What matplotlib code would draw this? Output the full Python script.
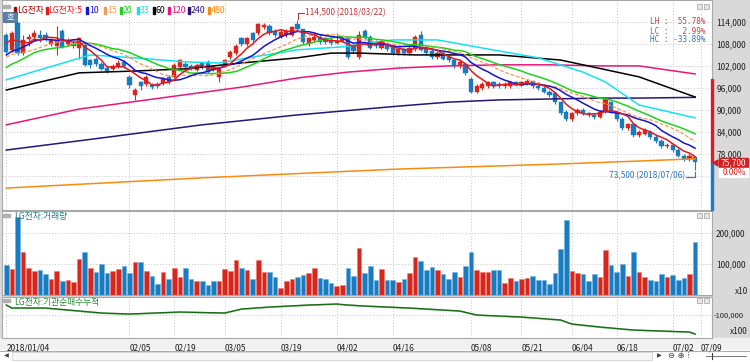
import numpy as np
import matplotlib
matplotlib.use("Agg")
import matplotlib.pyplot as plt
from matplotlib.patches import Rectangle, Polygon
from matplotlib.ticker import FuncFormatter

plt.rcParams['font.family'] = ['Noto Sans CJK KR', 'DejaVu Sans']

W, H = 750, 362

# daily candles 2018/01/04 .. 2018/07/06, thousand won
opens = [110.4, 106.3, 113.8, 105.5, 109.3, 110.0, 110.4, 110.5, 108.0, 107.5,
         111.5, 108.0, 107.5, 107.0, 107.7, 103.6, 103.8, 102.5, 101.5, 101.2,
         102.0, 103.0, 99.0, 94.0, 97.5, 97.0, 96.8, 97.0, 97.2, 99.0,
         99.0, 101.8, 102.5, 102.0, 100.9, 102.8, 103.0, 100.9, 99.0, 102.2,
         104.4, 105.5, 109.5, 108.0, 110.9, 111.0, 112.5, 113.0, 111.5, 110.0,
         110.5, 110.5, 113.5, 112.0, 108.0, 109.0, 110.0, 109.5, 109.0, 108.3,
         108.8, 109.5, 107.5, 104.5, 111.5, 110.0, 108.5, 107.0, 108.0, 107.0,
         105.5, 106.5, 105.5, 106.5, 110.5, 107.0, 106.0, 104.5, 105.5, 104.5,
         103.5, 102.0, 102.5, 98.5, 95.0, 96.0, 96.5, 97.5, 97.0, 96.5,
         96.5, 97.5, 96.8, 97.0, 97.8, 96.5, 96.0, 95.0, 94.5, 92.0,
         89.5, 87.5, 89.0, 90.0, 89.0, 88.5, 88.0, 89.5, 92.0, 89.0,
         87.5, 85.0, 86.0, 83.0, 83.5, 84.0, 82.5, 81.5, 80.0, 80.5,
         79.0, 77.5, 76.5, 77.2]
highs = [111.0, 111.5, 114.0, 110.4, 110.8, 111.8, 111.8, 111.2, 109.5, 113.0,
         112.0, 109.5, 108.8, 110.0, 108.3, 104.0, 104.5, 103.0, 102.0, 102.5,
         103.5, 103.5, 99.5, 96.0, 98.0, 99.5, 97.2, 97.5, 99.0, 99.5,
         102.8, 104.0, 103.0, 102.5, 102.5, 103.2, 103.5, 102.2, 101.8, 104.0,
         106.3, 108.0, 110.0, 110.0, 111.3, 113.8, 113.8, 113.5, 112.0, 112.0,
         112.0, 113.0, 114.5, 112.2, 110.0, 111.0, 110.5, 110.0, 109.5, 111.0,
         109.8, 110.0, 108.0, 111.5, 112.0, 110.5, 109.0, 109.0, 108.5, 107.5,
         107.0, 107.0, 107.5, 110.5, 111.5, 107.5, 106.5, 106.0, 106.0, 105.0,
         104.0, 103.5, 103.0, 99.0, 97.0, 97.5, 98.0, 98.0, 97.5, 97.5,
         98.0, 98.0, 98.0, 98.5, 98.0, 97.0, 96.5, 95.5, 95.0, 92.5,
         90.0, 89.5, 90.5, 90.5, 89.5, 89.0, 90.0, 93.5, 92.5, 89.5,
         88.0, 86.5, 86.5, 84.5, 85.0, 84.5, 83.0, 82.0, 81.0, 81.0,
         79.5, 78.0, 77.8, 77.2]
lows = [105.5, 105.8, 105.0, 105.0, 107.5, 108.7, 108.5, 108.8, 107.5, 105.0,
        107.0, 107.5, 107.0, 104.0, 102.0, 101.5, 102.0, 100.8, 100.0, 100.8,
        101.5, 101.5, 96.0, 92.7, 95.5, 96.5, 95.8, 96.0, 96.8, 97.0,
        98.8, 101.5, 101.2, 100.8, 100.5, 101.2, 100.0, 100.5, 97.5, 101.8,
        104.0, 105.0, 107.5, 107.5, 108.5, 110.5, 112.0, 110.5, 110.0, 109.5,
        110.0, 110.2, 111.5, 108.0, 107.5, 108.5, 108.0, 108.0, 107.8, 108.0,
        108.5, 104.0, 105.5, 104.0, 109.0, 106.5, 107.0, 106.5, 106.0, 105.0,
        105.0, 105.0, 105.0, 106.0, 106.0, 105.0, 104.0, 104.0, 103.5, 103.0,
        101.5, 101.5, 99.5, 94.5, 94.5, 95.5, 96.0, 96.0, 96.0, 96.0,
        96.0, 96.5, 96.5, 96.8, 96.0, 95.5, 94.5, 93.5, 91.5, 88.5,
        87.0, 87.0, 88.5, 88.5, 88.0, 87.5, 87.8, 89.0, 89.0, 87.0,
        84.5, 84.5, 82.5, 82.5, 83.0, 82.0, 81.0, 79.5, 79.5, 78.5,
        77.0, 76.0, 76.0, 73.5]
closes = [105.9, 111.1, 105.5, 109.1, 109.9, 111.0, 109.6, 109.5, 109.0, 109.2,
          107.2, 109.0, 108.0, 109.5, 102.2, 102.2, 102.5, 101.2, 100.5, 102.0,
          102.8, 102.0, 96.8, 95.5, 96.5, 99.0, 96.2, 96.5, 98.5, 97.5,
          102.2, 103.6, 101.8, 101.2, 102.0, 101.7, 100.3, 101.7, 101.5, 103.6,
          105.8, 107.5, 108.0, 109.5, 109.1, 113.5, 113.2, 111.0, 110.5, 111.3,
          111.5, 112.6, 112.0, 108.5, 109.5, 110.0, 108.5, 108.5, 108.3, 108.8,
          109.3, 104.5, 106.0, 110.5, 109.5, 107.0, 107.5, 108.5, 106.5, 105.5,
          106.5, 105.5, 107.0, 109.8, 106.3, 105.5, 104.5, 105.5, 104.0, 103.5,
          102.0, 103.0, 100.0, 95.0, 96.5, 97.0, 97.5, 96.5, 96.5, 97.0,
          97.5, 96.8, 97.5, 97.8, 96.5, 96.0, 95.0, 94.0, 92.0, 89.0,
          87.5, 89.0, 90.0, 89.0, 88.5, 88.0, 89.5, 93.0, 89.5, 87.5,
          85.0, 86.0, 83.0, 84.0, 84.5, 82.5, 81.5, 80.0, 80.5, 79.0,
          77.5, 76.5, 77.3, 75.7]
# closes before the window, used only to start the short averages
pre_closes = [93.0, 92.5, 93.0, 93.5, 94.0, 100.0, 102.0, 104.0, 105.0, 105.0,
              101.0, 101.0, 102.0, 102.5, 102.0, 106.5, 108.0, 110.0, 111.0]

# volume (axis units, thousands), colour of each bar
volumes = [96, 84, 251, 139, 87, 77, 81, 67, 52, 77,
           45, 48, 42, 116, 139, 87, 74, 100, 71, 77,
           84, 94, 71, 106, 106, 77, 62, 36, 74, 52,
           87, 58, 87, 52, 45, 45, 33, 45, 45, 84,
           77, 113, 87, 81, 52, 113, 74, 74, 58, 23,
           45, 52, 58, 65, 71, 87, 55, 52, 38, 29,
           33, 87, 62, 152, 71, 94, 47, 84, 47, 47,
           42, 52, 71, 123, 110, 81, 91, 81, 67, 52,
           74, 58, 94, 139, 81, 74, 74, 81, 81, 38,
           55, 45, 52, 55, 62, 48, 48, 36, 71, 149,
           242, 77, 71, 67, 45, 67, 58, 145, 96, 74,
           100, 62, 139, 74, 58, 48, 45, 67, 58, 64,
           48, 55, 67, 171]
vol_dir = ("brbrrrbbrrbrrrbrbbbrrbbrbrbbrbrrbb"
           "rbbbrrrrbrbrrbbrrrbbrrbbbrrbbrbb"
           "brbbrbrrbbbrbbbrbbrrrbbrrbrrbb"
           "bbbbbrrbbbrrbbbrbrrbbbrbbbrb")

# longer moving averages (bar index, won)
ma33_x = [0, 15, 23, 32, 38, 44, 52, 60, 69, 77, 85, 95, 103, 107, 113, 123]
ma33_y = [98200, 105000, 104200, 103100, 102800, 104400, 106400, 107200, 109100,
          109100, 106900, 104200, 100300, 97600, 91300, 87800]
ma60_x = [0, 13, 23, 32, 42, 52, 58, 63, 73, 88, 99, 113, 123]
ma60_y = [95400, 100100, 100600, 101200, 102800, 104200, 105500, 105500, 105000,
          105000, 103600, 99000, 93500]
ma120_x = [0, 13, 42, 52, 61, 70, 79, 88, 97, 106, 113, 123]
ma120_y = [85900, 90200, 96200, 98700, 100300, 101400, 102000, 102300, 102300,
           102000, 102000, 99800]
ma240_x = [0, 17, 35, 52, 70, 79, 88, 106, 113, 123]
ma240_y = [79000, 82300, 85900, 88600, 91000, 92100, 92700, 93200, 93200, 93400]
ma480_x = [0, 35, 70, 99, 113, 123]
ma480_y = [68600, 71400, 73800, 75200, 76000, 76600]

# institutional net buying, cumulative (axis units)
cum_x = [0, 1, 7, 17, 22, 31, 39, 42, 47, 54, 59, 61, 64, 72, 81, 84, 92, 99,
         101, 106, 112, 122, 123]
cum_y = [-50000, -65000, -65000, -90000, -95000, -85000, -90000, -70000, -60000,
         -50000, -45000, -50000, -55000, -65000, -80000, -100000, -110000,
         -125000, -145000, -160000, -175000, -185000, -195000]

tick_idx = [0, 22, 30, 39, 49, 59, 69, 83, 92, 101, 109, 119, 124]
tick_lab = ["2018/01/04", "02/05", "02/19", "03/05", "03/19", "04/02", "04/16",
            "05/08", "05/21", "06/04", "06/18", "07/02", "07/09"]
price_ticks = [72000, 78000, 84000, 90000, 96000, 102000, 108000, 114000]

RED, BLUE = '#d9261c', '#1a7cc0'
RED_L, BLUE_L = '#f07a70', '#6ab4e4'
c_ma = {5: '#e8161b', 10: '#1414d2', 15: '#f39a5a', 20: '#1ed21e',
        33: '#12e2f2', 60: '#000000', 120: '#e8177d', 240: '#2a1478',
        480: '#f98a12'}

fig = plt.figure(figsize=(W / 100, H / 100), dpi=100)
fig.patch.set_facecolor('#d9d9d9')


def px_axes(x0, y0, x1, y1, z):
    return fig.add_axes([x0 / W, 1 - y1 / H, (x1 - x0) / W, (y1 - y0) / H], zorder=z)


def fmt(v, p):
    # the bottom price tick sits under the current price tag
    return "" if v == 72000 else f"{int(v):,}"


bg = px_axes(0, 0, W, H, 0)
bg.set_xlim(0, W)
bg.set_ylim(H, 0)
bg.axis('off')
bg.add_patch(Rectangle((0, 338), W, 12, color='#f1f1f1'))
bg.add_patch(Rectangle((0, 350), W, 12, color='#ffffff'))
bg.plot([0, W], [350.5, 350.5], color='#8cb4dc', lw=0.8)

o = np.array(opens) * 1000
h = np.array(highs) * 1000
l = np.array(lows) * 1000
c = np.array(closes) * 1000
x = np.arange(len(c))
XL = (-0.768, 126.02)

ax = px_axes(2, 0, 712, 210, 2)
ax2 = px_axes(2, 211, 712, 295, 2)
ax3 = px_axes(2, 297, 712, 338, 2)
for a in (ax, ax2, ax3):
    a.set_xlim(*XL)
    a.set_facecolor('white')
    for s in a.spines.values():
        s.set_color('#a8a8a8')
        s.set_linewidth(0.8)
    a.set_xticks(tick_idx)
    a.grid(True, color='#c4c4c4', linestyle=(0, (1, 2)), lw=0.7)
    a.set_axisbelow(True)
    a.yaxis.tick_right()
    a.tick_params(length=0, labelsize=6, pad=3, colors='#202020')

# candles
up = c >= o
col = np.where(up, RED, BLUE)
ax.vlines(x, l, h, colors=col, lw=0.8, zorder=2)
body = np.maximum(np.abs(c - o), 250)
ax.bar(x, body, bottom=np.minimum(o, c), width=0.74, color=col, edgecolor=col,
       lw=0.3, zorder=2)

# moving averages
full = np.concatenate([np.array(pre_closes) * 1000, c])
for n in (20, 15, 10, 5):
    ma = np.convolve(full, np.ones(n) / n, mode='valid')[-len(c):]
    ls = (0, (3, 1.5)) if n == 15 else '-'
    ax.plot(x, ma, color=c_ma[n], lw=1.1 if n != 15 else 0.9, ls=ls,
            zorder=3 + (20 - n) / 100)
for n, xs, ys in ((480, ma480_x, ma480_y), (240, ma240_x, ma240_y),
                  (120, ma120_x, ma120_y), (60, ma60_x, ma60_y), (33, ma33_x, ma33_y)):
    ax.plot(xs, ys, color=c_ma[n], lw=1.1, zorder=2.9)

ax.set_ylim(62610, 120014)
ax.set_yticks(price_ticks)
ax.yaxis.set_major_formatter(FuncFormatter(fmt))
ax.set_xticklabels([])

# volume
vcol = [RED if d == 'r' else BLUE for d in vol_dir]
vedge = [RED_L if d == 'r' else BLUE_L for d in vol_dir]
vol = np.array(volumes) * 1000
ax2.bar(x, vol, width=0.8, color=vcol, edgecolor=vedge, lw=0.4, zorder=2)
ax2.set_ylim(0, 271000)
ax2.set_yticks([100000, 200000])
ax2.yaxis.set_major_formatter(FuncFormatter(fmt))
ax2.set_xticklabels([])

# cumulative net buying
ax3.plot(cum_x, np.array(cum_y) - 1500, color='#9ad49a', lw=1.2, zorder=2)
ax3.plot(cum_x, cum_y, color='#1a6a1a', lw=1.0, zorder=3)
ax3.set_ylim(-215000, -10000)
ax3.set_yticks([-100000])
ax3.yaxis.set_major_formatter(FuncFormatter(fmt))
ax3.tick_params(axis='y', labelsize=5.4, pad=1)
ax3.set_xticklabels(tick_lab)
for t in ax3.get_xticklabels():
    t.set_ha('left')
ax3.tick_params(axis='x', pad=4)

# overlay: legend, labels, markers
fg = px_axes(0, 0, W, H, 5)
fg.set_xlim(0, W)
fg.set_ylim(H, 0)
fg.axis('off')

leg = [('LG전자', '#b40000', 14), ('LG전자:5', c_ma[5], 45.5), ('10', c_ma[10], 86),
       ('15', c_ma[15], 104), ('20', c_ma[20], 120), ('33', c_ma[33], 137),
       ('60', c_ma[60], 153), ('120', c_ma[120], 168), ('240', c_ma[240], 188),
       ('480', c_ma[480], 208)]
for name, cc, bx in leg:
    fg.add_patch(Rectangle((bx, 6.5), 2, 7, color=cc))
    fg.text(bx + 3, 10.5, name, color=cc, fontsize=6.3, va='center', ha='left')

for yy, lab, cc in ((5, None, None), (214, 'LG전자:거래량', '#1f8080'),
                    (299, 'LG전자:기관순매수누적', '#2a8a3a')):
    fg.add_patch(Rectangle((3, yy), 7, 3, color='#b0b0b0'))
    if lab:
        fg.text(14, yy + 3, lab, color=cc, fontsize=6.3, va='center')
    for bx in (697, 704):
        fg.add_patch(Rectangle((bx, yy - 1), 5, 5, facecolor='#e6e6e6',
                               edgecolor='#a0a0a0', lw=0.5))
fg.add_patch(Rectangle((3, 12), 14, 10, facecolor='#5b7fa6', edgecolor='#3a5f86', lw=0.5))
fg.text(10, 17, '호', color='white', fontsize=6, ha='center', va='center')

mono = 'DejaVu Sans Mono'
fg.text(650, 22, 'LH :  55.78%', color='#c84040', fontsize=5.6, family=mono, va='center')
fg.text(650, 31, 'LC :   2.99%', color='#c84040', fontsize=5.6, family=mono, va='center')
fg.text(650, 40, 'HC : -33.89%', color='#2f6fbf', fontsize=5.6, family=mono, va='center')

fg.plot([297.5, 297.5, 304], [19, 13, 13], color='#c03a3a', lw=0.8)
fg.text(305, 13, '114,500 (2018/03/22)', color='#c03a3a', fontsize=6, va='center')
fg.plot([686, 694.5, 694.5], [177, 177, 172], color='#2a7ab8', lw=0.8)
fg.text(685, 176, '73,500 (2018/07/06)', color='#2a7ab8', fontsize=6, va='center',
        ha='right')

# price position bar and current price tag
fg.add_patch(Rectangle((710.5, 79), 2, 84, color='#d42020'))
fg.add_patch(Rectangle((710.5, 163), 2, 47, color='#1a7cc0'))
fg.add_patch(Polygon([[713, 163], [718, 160], [718, 166]], color='#d42020'))
fg.add_patch(Rectangle((719, 158), 29, 10, color='#d42020'))
fg.text(746, 163, '75,700', color='white', fontsize=6, ha='right', va='center')
fg.add_patch(Rectangle((719, 168), 29, 9, color='white'))
fg.text(746, 172.5, '0.00%', color='#d42020', fontsize=6, ha='right', va='center')
fg.text(748, 291, 'x10', color='#202020', fontsize=6, ha='right', va='center')
fg.text(748, 331, 'x100', color='#202020', fontsize=6, ha='right', va='center')

# scroll bar strip
fg.text(4, 356, '◀', fontsize=4.5, color='#404040', va='center', family='DejaVu Sans')
fg.add_patch(Rectangle((12, 352), 640, 8, facecolor='#f6f6f6', edgecolor='#c8c8c8', lw=0.5))
fg.text(657, 356, '▶', fontsize=4.5, color='#404040', va='center', family='DejaVu Sans')
fg.text(668, 356, '⊖ ⊕ ⁞', fontsize=6, color='#404040', va='center', family='DejaVu Sans')
fg.plot([706, 746], [356, 356], color='#606060', lw=0.6)
fg.plot([712, 712], [353, 359], color='#404040', lw=0.8)

fig.savefig('out.png', dpi=100, facecolor=fig.get_facecolor())
